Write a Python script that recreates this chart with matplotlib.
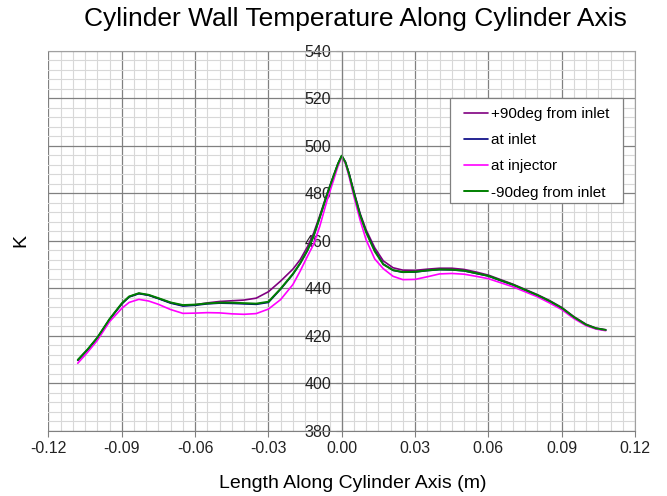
import matplotlib
matplotlib.use("Agg")
import matplotlib.pyplot as plt
from matplotlib.ticker import MultipleLocator, FormatStrFormatter
from matplotlib.patches import Rectangle

plt.rcParams['font.family'] = ['Liberation Sans', 'DejaVu Sans']

x = [-0.108, -0.104, -0.100, -0.095, -0.090, -0.087, -0.083, -0.079, -0.075, -0.070,
     -0.065, -0.060, -0.055, -0.050, -0.045, -0.040, -0.035, -0.030, -0.025, -0.020,
     -0.017, -0.014, -0.0115, -0.009, -0.006, -0.0035, -0.0015, 0.0, 0.0015, 0.003,
     0.005, 0.0075, 0.010, 0.0135, 0.017, 0.021, 0.025, 0.030, 0.035, 0.040,
     0.045, 0.050, 0.055, 0.060, 0.065, 0.070, 0.075, 0.080, 0.085, 0.090,
     0.095, 0.100, 0.104, 0.108]

minus90 = [409.8, 414.2, 419.2, 427.0, 433.6, 436.5, 437.9, 437.2, 435.8, 434.0,
           432.9, 433.1, 433.6, 433.9, 433.9, 433.7, 433.5, 434.3, 439.8, 446.0,
           450.5, 456.0, 462.0, 469.8, 479.5, 486.8, 492.5, 495.8, 493.0, 488.0,
           480.0, 470.8, 463.5, 455.5, 450.0, 447.6, 446.8, 446.9, 447.5, 447.9,
           447.8, 447.4, 446.3, 445.2, 443.3, 441.5, 439.3, 437.1, 434.6, 431.7,
           427.8, 424.6, 423.1, 422.4]

plus90 = [409.6, 414.0, 419.0, 426.8, 433.4, 436.4, 437.8, 437.1, 435.7, 433.9,
          432.7, 433.0, 433.8, 434.4, 434.7, 435.0, 435.8, 438.5, 443.0, 448.0,
          452.0, 457.5, 463.2, 470.5, 479.8, 486.9, 492.5, 495.7, 493.2, 488.4,
          480.6, 471.5, 464.5, 457.0, 451.5, 448.6, 447.6, 447.5, 448.0, 448.4,
          448.4, 447.9, 446.8, 445.5, 443.6, 441.7, 439.5, 437.3, 434.8, 431.9,
          428.0, 424.8, 423.2, 422.5]

inlet = [409.7, 414.1, 419.1, 426.9, 433.4, 436.3, 437.7, 437.0, 435.6, 433.7,
         432.5, 432.8, 433.4, 433.7, 433.6, 433.4, 433.2, 434.0, 439.6, 445.8,
         450.4, 455.9, 461.9, 469.7, 479.4, 486.8, 492.4, 495.7, 493.0, 488.1,
         480.2, 471.0, 463.7, 455.8, 450.2, 447.5, 446.7, 446.8, 447.4, 447.8,
         447.7, 447.3, 446.2, 445.1, 443.2, 441.4, 439.2, 437.0, 434.5, 431.6,
         427.7, 424.5, 423.0, 422.3]

injector = [408.4, 413.0, 418.0, 425.9, 431.5, 434.0, 435.3, 434.6, 433.2, 431.0,
            429.4, 429.5, 429.7, 429.6, 429.2, 429.0, 429.3, 431.2, 435.2, 441.5,
            447.2, 453.5, 458.5, 466.0, 477.0, 485.0, 491.5, 495.3, 492.5, 487.0,
            478.5, 468.7, 460.3, 452.3, 448.2, 445.0, 443.6, 443.7, 444.8, 446.0,
            446.2, 445.9, 445.0, 444.0, 442.3, 440.6, 438.5, 436.4, 433.8, 431.0,
            427.2, 424.2, 422.8, 422.1]

series = [("+90deg from inlet", plus90, "#800080", 1.2),
          ("at inlet", inlet, "#000080", 1.2),
          ("at injector", injector, "#FF00FF", 1.2),
          ("-90deg from inlet", minus90, "#008000", 1.4)]

fig = plt.figure(figsize=(6.67, 4.96), dpi=100)
ax = fig.add_axes([0.0726, 0.1317, 0.8795, 0.7661])

for label, vals, col, lw in series:
    ax.plot(x, vals, color=col, lw=lw, label=label,
            solid_capstyle='round', solid_joinstyle='round')

ax.set_xlim(-0.12, 0.12)
ax.set_ylim(380, 540)
ax.xaxis.set_major_locator(MultipleLocator(0.03))
ax.xaxis.set_minor_locator(MultipleLocator(0.005))
ax.yaxis.set_major_locator(MultipleLocator(20))
ax.yaxis.set_minor_locator(MultipleLocator(4))
ax.xaxis.set_major_formatter(FormatStrFormatter('%.2f'))

ax.grid(which='minor', color='#d8d8d8', lw=0.8)
ax.grid(which='major', color='#808080', lw=0.9)
ax.set_axisbelow(True)

ax.spines['left'].set_position(('data', 0))
ax.spines['left'].set_color('#808080')
ax.spines['bottom'].set_color('#808080')
ax.spines['top'].set_color('#a0a0a0')
ax.spines['right'].set_color('#a0a0a0')
ax.tick_params(which='major', direction='out', length=4, color='#808080',
               labelsize=11.5, labelcolor='#222222')
ax.tick_params(which='minor', length=0)

fig.text(0.529, 0.026, "Length Along Cylinder Axis (m)", fontsize=14,
         ha='center', va='center')
fig.text(0.031, 0.515, "K", fontsize=14, rotation=90, va='center', ha='center')
fig.text(0.533, 0.962, "Cylinder Wall Temperature Along Cylinder Axis",
         fontsize=19, ha='center', va='center')

# legend box
ax.add_patch(Rectangle((0.6846, 0.600), 0.2955, 0.2747, transform=ax.transAxes,
                       facecolor='white', edgecolor='#808080', lw=0.9, zorder=4))
leg = ax.legend(loc='upper left', bbox_to_anchor=(0.7085, 0.852), fontsize=11,
                frameon=False, handlelength=1.55, handletextpad=0.2,
                labelspacing=0.8, borderpad=0, borderaxespad=0)
leg.set_zorder(5)

fig.savefig("out.png", dpi=100)
